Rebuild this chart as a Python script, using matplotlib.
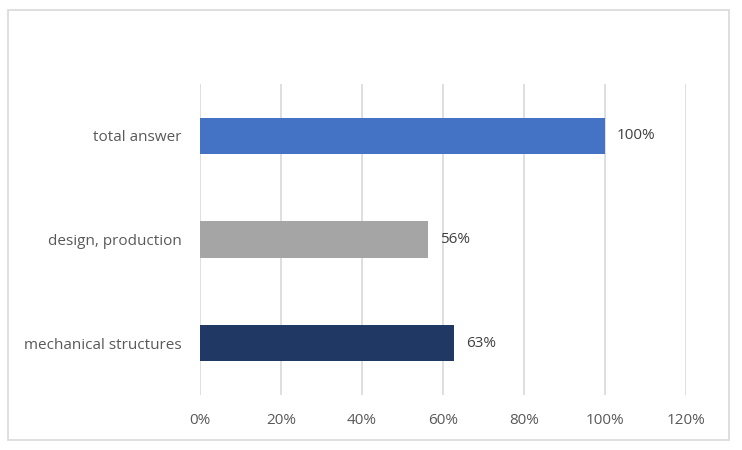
import matplotlib.pyplot as plt
from matplotlib.patches import Rectangle

categories = ["mechanical structures", "design, production", "total answer"]
values = [0.626, 0.563, 1.0]
colors = ["#203864", "#A5A5A5", "#4472C4"]
xticks = [0, 0.2, 0.4, 0.6, 0.8, 1.0, 1.2]

plt.rcParams['font.family'] = ['Open Sans', 'DejaVu Sans']

fig = plt.figure(figsize=(7.42, 4.5), dpi=100)
ax = fig.add_axes([200/742, 1-395/450, 486/742, 311/450])

# chart border
fig.patches.append(Rectangle((8/742, 10/450), 721/742, 430/450, transform=fig.transFigure,
                             fill=False, edgecolor="#D9D9D9", linewidth=1.2))

ypos = range(len(categories))
ax.barh(ypos, values, height=0.35, color=colors, zorder=3)

for y, v in zip(ypos, values):
    ax.text(v + 0.03, y, f"{round(v*100)}%", va="center", ha="left",
            fontsize=11, color="#404040")

ax.set_xlim(0, 1.2)
ax.set_ylim(-0.5, 2.5)
ax.set_xticks(xticks)
ax.set_xticklabels([f"{int(round(t*100))}%" for t in xticks])
ax.set_yticks(list(ypos))
ax.set_yticklabels(categories)
ax.tick_params(axis="both", length=0, labelsize=11, labelcolor="#595959")
ax.tick_params(axis="x", pad=13)
ax.tick_params(axis="y", pad=13)
ax.grid(axis="x", color="#D9D9D9", linewidth=1.2, zorder=0)
for s in ax.spines.values():
    s.set_visible(False)

plt.savefig("out.png", dpi=100)
